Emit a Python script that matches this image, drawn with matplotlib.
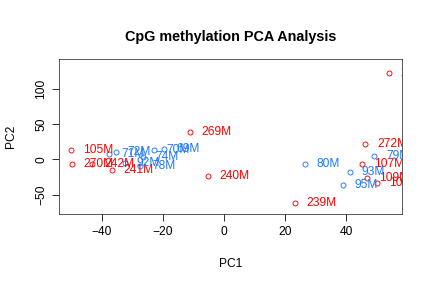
import matplotlib

matplotlib.use("Agg", force=True)
import matplotlib.pyplot as plt
from matplotlib.transforms import offset_copy

plt.rcParams["font.family"] = ["Liberation Sans", "DejaVu Sans"]

# red group (sample labels and PC scores)
red_labels = ["105M", "270M", "242M", "241M", "269M", "240M", "239M",
              "268M", "272M", "107M", "109M", "108M"]
red_pc1 = [-50.1, -49.8, -43.2, -36.8, -11.2, -5.3, 23.2,
           53.9, 46.2, 45.2, 46.9, 50.0]
red_pc2 = [13.5, -6.4, -6.4, -14.9, 39.4, -22.9, -62.0,
           122.5, 22.0, -6.0, -26.9, -33.9]

# blue group
blue_labels = ["71M", "72M", "70M", "69M", "74M", "92M", "78M",
               "80M", "79M", "93M", "95M"]
blue_pc1 = [-37.6, -35.4, -22.9, -19.6, -26.5, -32.4, -27.5,
            26.5, 49.1, 41.2, 38.9]
blue_pc2 = [7.8, 10.6, 13.5, 14.9, 3.5, -5.0, -9.2,
            -6.9, 5.2, -18.4, -36.5]

RED = "#FF0000"
BLUE = "#1E78FF"

fig = plt.figure(figsize=(6.0, 4.0), dpi=72)
ax = fig.add_axes([0.1366, 0.257, 0.7934, 0.537])
text_tr = offset_copy(ax.transData, fig=fig, x=12, y=0, units="points")

for labels, xs, ys, col in ((red_labels, red_pc1, red_pc2, RED),
                            (blue_labels, blue_pc1, blue_pc2, BLUE)):
    ax.plot(xs, ys, linestyle="none", marker="o", markersize=5,
            markerfacecolor="none", markeredgecolor=col, markeredgewidth=0.9)
    for lab, x, y in zip(labels, xs, ys):
        ax.text(x, y, lab, transform=text_tr, ha="left", va="center",
                color=col, fontsize=12, clip_on=True)

ax.set_xlim(-54.0, 58.2)
ax.set_ylim(-77.2, 141.9)
ax.set_xticks([-40, -20, 0, 20, 40])
ax.set_yticks([-50, 0, 50, 100])
ax.tick_params(direction="out", length=7, width=0.8, labelsize=12, pad=5)
for lbl in ax.get_yticklabels():
    lbl.set_rotation(90)
    lbl.set_va("center")
for sp in ax.spines.values():
    sp.set_linewidth(0.8)
    sp.set_color("#333333")

ax.set_xlabel("PC1", fontsize=12, labelpad=20)
ax.set_ylabel("PC2", fontsize=12, labelpad=18)
ax.set_title("CpG methylation PCA Analysis", fontsize=14.4,
             fontweight="bold", pad=18)

fig.savefig("out.png", dpi=72)
plt.close(fig)
